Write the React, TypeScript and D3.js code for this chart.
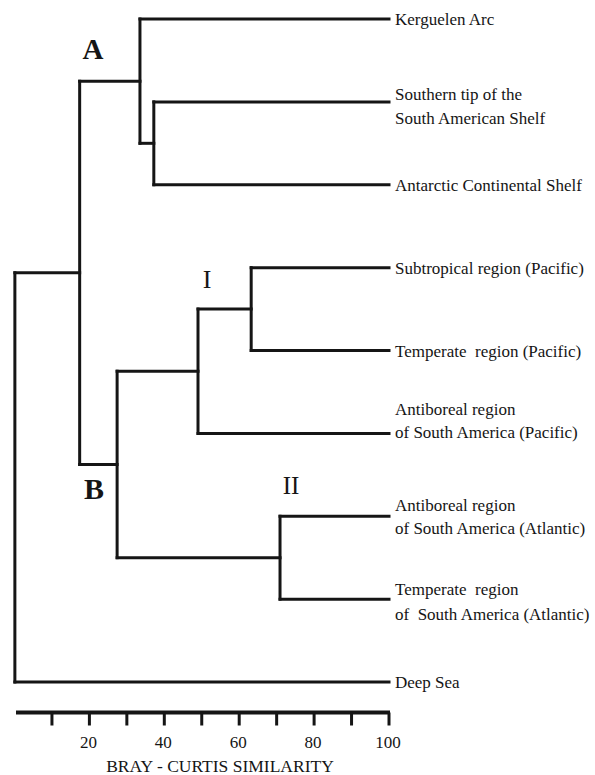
import React from "react";
import * as d3 from "d3";

// ---- data ----
const leafNames: string[][] = [
  ["Kerguelen Arc"],
  ["Southern tip of the", "South American Shelf"],
  ["Antarctic Continental Shelf"],
  ["Subtropical region (Pacific)"],
  ["Temperate  region (Pacific)"],
  ["Antiboreal region", "of South America (Pacific)"],
  ["Antiboreal region", "of South America (Atlantic)"],
  ["Temperate  region", "of  South America (Atlantic)"],
  ["Deep Sea"],
];

// merges: [childA, childB, similarity]; children are "L<i>" leaves or "N<i>" nodes
const mergeIds = ["N0", "N1", "N2", "N3", "N4", "N5", "N6", "N7"];
const mergeLeft = ["L1", "L0", "L3", "N2", "L6", "N3", "N1", "N6"];
const mergeRight = ["L2", "N0", "L4", "L5", "L7", "N4", "N5", "L8"];
const mergeSimilarity = [37.2, 33.5, 63.2, 49.0, 70.9, 27.4, 17.4, 0.1];

const groupLabels = ["A", "B", "I", "II"];
const tickValues = [10, 20, 30, 40, 50, 60, 70, 80, 90, 100];
const tickLabelValues = [20, 40, 60, 80, 100];
const axisTitle = "BRAY - CURTIS SIMILARITY";

// ---- layout ----
const W = 595;
const H = 775;
const labelDy: number[][] = [[6], [-2, 22], [6], [6], [6], [-18, 5], [-5, 18], [-4, 21], [6]];
const groupPos = [
  { x: 93, y: 59, size: 29, weight: "bold" },
  { x: 94, y: 499, size: 30, weight: "bold" },
  { x: 207, y: 288, size: 26, weight: "normal" },
  { x: 291, y: 494, size: 25, weight: "normal" },
];

export default function App() {
  const x = d3.scaleLinear().domain([0, 100]).range([14.5, 389]);
  const y = d3
    .scalePoint<number>()
    .domain(d3.range(leafNames.length))
    .range([19, 682]);

  const pos: Record<string, { x: number; y: number }> = {};
  leafNames.forEach((_, i) => {
    pos["L" + i] = { x: x(100), y: y(i)! };
  });
  const segs: { x1: number; y1: number; x2: number; y2: number }[] = [];
  mergeIds.forEach((id, i) => {
    const a = pos[mergeLeft[i]];
    const b = pos[mergeRight[i]];
    const nx = x(mergeSimilarity[i]);
    const ny = (a.y + b.y) / 2;
    pos[id] = { x: nx, y: ny };
    segs.push({ x1: nx, y1: a.y, x2: a.x, y2: a.y });
    segs.push({ x1: nx, y1: b.y, x2: b.x, y2: b.y });
    segs.push({ x1: nx, y1: a.y, x2: nx, y2: b.y });
  });

  const axisY = 712.5;
  const font = "'Liberation Serif', 'Times New Roman', serif";
  const ink = "#151515";

  return (
    <svg
      width={W}
      height={H}
      viewBox={`0 0 ${W} ${H}`}
      style={{ position: "absolute", left: 0, top: 0, background: "#fff" }}
    >
      <rect width={W} height={H} fill="#fff" />
      <g stroke={ink} strokeWidth={3} strokeLinecap="square" fill="none">
        {segs.map((s, i) => (
          <line key={i} x1={s.x1} y1={s.y1} x2={s.x2} y2={s.y2} />
        ))}
      </g>
      {leafNames.map((lines, i) =>
        lines.map((t, j) => (
          <text
            key={i + "-" + j}
            x={395}
            y={y(i)! + labelDy[i][j]}
            fontFamily={font}
            fontSize={17}
            fill={ink}
            style={{ whiteSpace: "pre" }}
          >
            {t}
          </text>
        ))
      )}
      {groupLabels.map((g, i) => (
        <text
          key={g}
          x={groupPos[i].x}
          y={groupPos[i].y}
          textAnchor="middle"
          fontFamily={font}
          fontSize={groupPos[i].size}
          fontWeight={groupPos[i].weight}
          fill={ink}
        >
          {g}
        </text>
      ))}
      <line x1={16} x2={390} y1={axisY} y2={axisY} stroke={ink} strokeWidth={4} />
      {tickValues.map((v) => (
        <line
          key={v}
          x1={x(v)}
          x2={x(v)}
          y1={axisY}
          y2={axisY + 13}
          stroke={ink}
          strokeWidth={3}
        />
      ))}
      {tickLabelValues.map((v) => (
        <text
          key={v}
          x={x(v) - 1}
          y={748}
          textAnchor="middle"
          fontFamily={font}
          fontSize={17}
          fill={ink}
        >
          {v}
        </text>
      ))}
      <text
        x={220}
        y={772}
        textAnchor="middle"
        fontFamily={font}
        fontSize={17.5}
        fill={ink}
      >
        {axisTitle}
      </text>
    </svg>
  );
}
